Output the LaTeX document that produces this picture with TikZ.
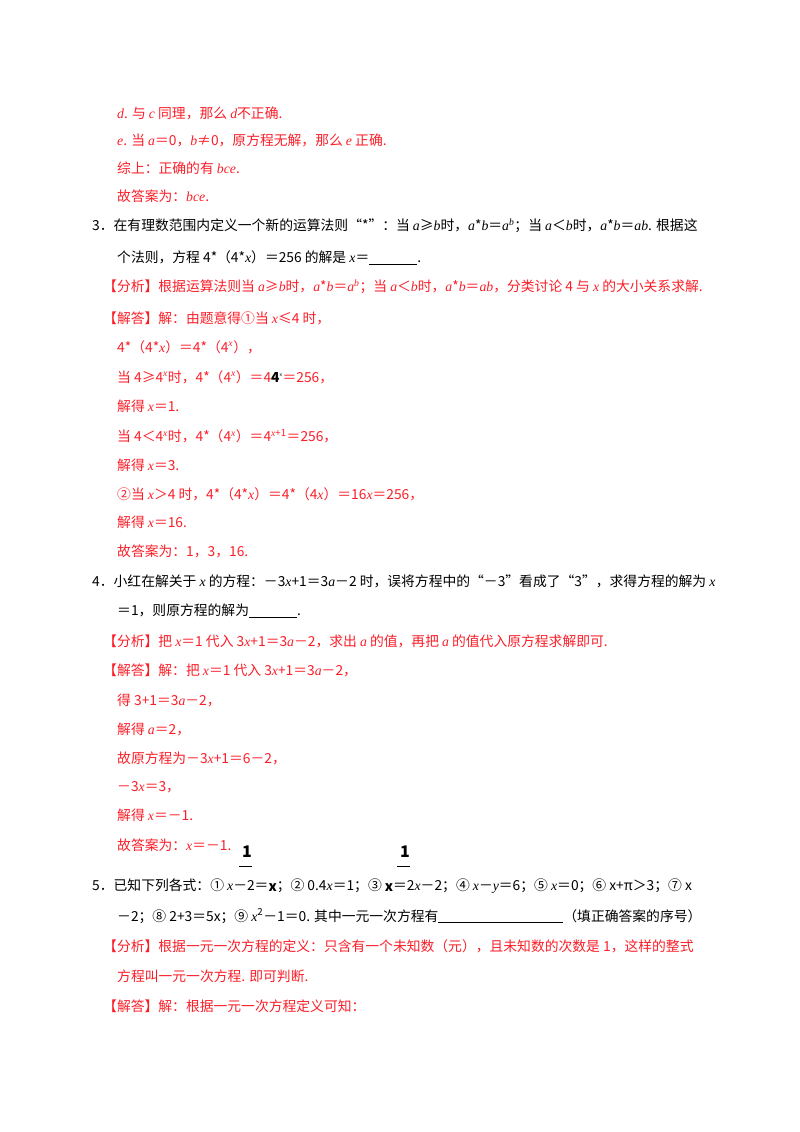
\documentclass[tikz,border=0pt]{standalone}
\usepackage{fontspec}
\setmainfont{Noto Sans CJK SC}
\newfontfamily\lat{Liberation Serif}
\newcommand{\V}[1]{{\lat\itshape #1}}
\newcommand{\Sp}[1]{\textsuperscript{#1}}
\definecolor{ans}{RGB}{250,30,40}
\begin{document}
\begin{tikzpicture}[x=1pt,y=-1pt,
  ln/.style={anchor=west,inner sep=0pt,font=\fontsize{13.8}{14}\selectfont},
  rd/.style={ln,text=ans}]
\useasboundingbox (0,0) rectangle (800,1132);
\node[rd] (l1) at (117,113) {\V{d}. 与 \V{c} 同理，那么 \V{d}不正确.};
\node[rd] (l2) at (117,140) {\V{e}. 当 \V{a}＝0，\V{b}≠0，原方程无解，那么 \V{e} 正确.};
\node[rd] (l3) at (117,168) {综上：正确的有 \V{bce}.};
\node[rd] (l4) at (117,196) {故答案为：\V{bce}.};
\node[ln] (q3) at (92,226) {3．在有理数范围内定义一个新的运算法则“*”：当 \V{a}≥\V{b}时，\V{a}*\V{b}＝\V{a}\Sp{\V{b}}；当 \V{a}＜\V{b}时，\V{a}*\V{b}＝\V{ab}. 根据这};
\node[ln] (q3b) at (117,258) {个法则，方程 4*（4*\V{x}）＝256 的解是 \V{x}＝\underline{\hspace{48pt}}.};
\node[rd] (a1) at (103,287) {【分析】根据运算法则当 \V{a}≥\V{b}时，\V{a}*\V{b}＝\V{a}\Sp{\V{b}}；当 \V{a}＜\V{b}时，\V{a}*\V{b}＝\V{ab}，分类讨论 4 与 \V{x} 的大小关系求解.};
\node[rd] (a2) at (103,318) {【解答】解：由题意得①当 \V{x}≤4 时，};
\node[rd] (a3) at (117,347) {4*（4*\V{x}）＝4*（4\Sp{\V{x}}），};
\node[rd] (a4) at (117,377) {当 4≥4\Sp{\V{x}}时，4*（4\Sp{\V{x}}）＝4{\color{black}\textbf{4}\Sp{\tiny x}}＝256，};
\node[rd] (a5) at (117,406) {解得 \V{x}＝1.};
\node[rd] (a6) at (117,436) {当 4＜4\Sp{\V{x}}时，4*（4\Sp{\V{x}}）＝4\Sp{\V{x}+1}＝256，};
\node[rd] (a7) at (117,465) {解得 \V{x}＝3.};
\node[rd] (a8) at (117,494) {②当 \V{x}＞4 时，4*（4*\V{x}）＝4*（4\V{x}）＝16\V{x}＝256，};
\node[rd] (a9) at (117,522) {解得 \V{x}＝16.};
\node[rd] (a10) at (117,551) {故答案为：1，3，16.};
\node[ln] (q4) at (92,581) {4．小红在解关于 \V{x} 的方程：－3\V{x}+1＝3\V{a}－2 时，误将方程中的“－3”看成了“3”，求得方程的解为 \V{x}};
\node[ln] (q4b) at (117,611) {＝1，则原方程的解为\underline{\hspace{48pt}}.};
\node[rd] (b1) at (103,641) {【分析】把 \V{x}＝1 代入 3\V{x}+1＝3\V{a}－2，求出 \V{a} 的值，再把 \V{a} 的值代入原方程求解即可.};
\node[rd] (b2) at (103,670) {【解答】解：把 \V{x}＝1 代入 3\V{x}+1＝3\V{a}－2，};
\node[rd] (b3) at (117,700) {得 3+1＝3\V{a}－2，};
\node[rd] (b4) at (117,729) {解得 \V{a}＝2，};
\node[rd] (b5) at (117,758) {故原方程为－3\V{x}+1＝6－2，};
\node[rd] (b6) at (117,787) {－3\V{x}＝3，};
\node[rd] (b7) at (117,815) {解得 \V{x}＝－1.};
\node[rd] (b8) at (117,845) {故答案为：\V{x}＝－1.};
\node[ln] (q5) at (92,886) {5．已知下列各式：① \V{x}－2＝\raisebox{-1pt}{\textbf{x}}；② 0.4\V{x}＝1；③ \raisebox{-1pt}{\textbf{x}}＝2\V{x}－2；④ \V{x}－\V{y}＝6；⑤ \V{x}＝0；⑥ x+π＞3；⑦ x};
\node[ln,font=\fontsize{16}{16}\selectfont\bfseries] (f1) at (242,852) {1};
\draw[line width=1pt] (239,866) -- (252,866);
\node[ln,font=\fontsize{16}{16}\selectfont\bfseries] (f2) at (400,852) {1};
\draw[line width=1pt] (397,866) -- (410,866);
\node[ln] (q5b) at (117,916) {－2；⑧ 2+3＝5x；⑨ \V{x}\Sp{2}－1＝0. 其中一元一次方程有\underline{\hspace{125pt}}（填正确答案的序号）};
\node[rd] (c1) at (103,946) {【分析】根据一元一次方程的定义：只含有一个未知数（元），且未知数的次数是 1，这样的整式};
\node[rd] (c2) at (117,976) {方程叫一元一次方程. 即可判断.};
\node[rd] (c3) at (103,1006) {【解答】解：根据一元一次方程定义可知：};
\end{tikzpicture}
\end{document}
